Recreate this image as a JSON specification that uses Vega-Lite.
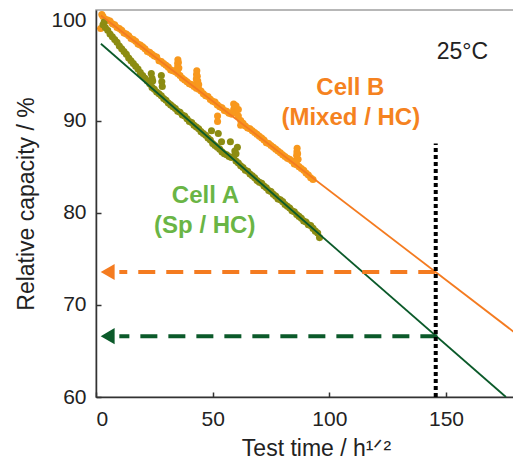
{
  "$schema": "https://vega.github.io/schema/vega-lite/v6.json",
  "autosize": "none",
  "padding": {"left": 96, "top": 10, "right": 0, "bottom": 67},
  "width": 420,
  "height": 387,
  "background": "white",
  "resolve": {"scale": {"color": "independent"}},
  "config": {
    "font": "Liberation Sans",
    "view": {"stroke": "#a0a0a0", "strokeWidth": 1.5},
    "axis": {
      "labelFont": "Liberation Sans", "titleFont": "Liberation Sans",
      "labelFontSize": 21, "titleFontSize": 23, "titleFontWeight": "normal",
      "labelColor": "#222", "titleColor": "#222",
      "domainColor": "#333", "domainWidth": 1.5, "tickColor": "#333", "tickWidth": 1.5,
      "tickSize": -5, "grid": false
    }
  },
  "datasets": {
    "cellB": [
      {"x":2,"y":100.0},{"x":2.5,"y":101.5},{"x":3,"y":101.3},{"x":4,"y":101.0},{"x":5,"y":100.9},{"x":6,"y":100.8},{"x":7,"y":100.5},{"x":8,"y":100.4},{"x":9,"y":100.1},{"x":10,"y":100.0},{"x":11,"y":99.8},{"x":12,"y":99.5},{"x":13,"y":99.4},{"x":14,"y":99.2},{"x":15,"y":98.9},{"x":16,"y":98.8},{"x":17,"y":98.6},{"x":18,"y":98.3},{"x":19,"y":98.2},{"x":20,"y":98.0},{"x":21,"y":97.8},{"x":22,"y":97.5},{"x":23,"y":97.4},{"x":24,"y":97.2},{"x":25,"y":97.0},{"x":26,"y":96.9},{"x":27,"y":96.5},{"x":28,"y":96.4},{"x":29,"y":96.2},{"x":30,"y":96.0},{"x":31,"y":95.8},{"x":32,"y":95.5},{"x":33,"y":95.4},{"x":34,"y":95.3},{"x":35,"y":95.1},{"x":34.8,"y":95.4},{"x":35,"y":95.8},{"x":35,"y":96.2},{"x":35.1,"y":96.6},{"x":35.3,"y":96.3},{"x":35.5,"y":95.7},{"x":36,"y":94.9},{"x":37,"y":94.6},{"x":38,"y":94.4},{"x":39,"y":94.2},{"x":40,"y":94.0},{"x":41,"y":93.9},{"x":42,"y":93.7},{"x":43,"y":93.5},{"x":43,"y":94.0},{"x":43,"y":94.5},{"x":43.1,"y":95.0},{"x":43.2,"y":95.4},{"x":43.4,"y":94.8},{"x":43.6,"y":94.3},{"x":44,"y":93.9},{"x":44,"y":93.4},{"x":45,"y":93.2},{"x":46,"y":92.9},{"x":47,"y":92.7},{"x":48,"y":92.6},{"x":49,"y":92.3},{"x":50,"y":92.1},{"x":51,"y":92.0},{"x":52,"y":91.7},{"x":52.1,"y":90.5},{"x":52.1,"y":89.9},{"x":53,"y":91.5},{"x":54,"y":91.4},{"x":55,"y":91.1},{"x":56,"y":91.0},{"x":57,"y":90.8},{"x":58,"y":90.7},{"x":59,"y":91.2},{"x":59,"y":91.8},{"x":59.5,"y":91.5},{"x":60,"y":90.8},{"x":60,"y":91.6},{"x":61,"y":90.5},{"x":61,"y":91.2},{"x":62,"y":90.0},{"x":62,"y":89.5},{"x":63,"y":89.7},{"x":64,"y":89.4},{"x":65,"y":89.2},{"x":66,"y":89.1},{"x":67,"y":88.9},{"x":68,"y":88.7},{"x":69,"y":88.5},{"x":70,"y":88.3},{"x":71,"y":88.1},{"x":72,"y":87.9},{"x":73,"y":87.6},{"x":74,"y":87.5},{"x":75,"y":87.3},{"x":76,"y":87.1},{"x":77,"y":86.9},{"x":78,"y":86.7},{"x":79,"y":86.5},{"x":80,"y":86.3},{"x":81,"y":86.1},{"x":82,"y":85.9},{"x":83,"y":85.8},{"x":84,"y":85.6},{"x":85,"y":85.3},{"x":86,"y":85.2},{"x":86,"y":85.7},{"x":86,"y":86.2},{"x":86.1,"y":86.6},{"x":86.2,"y":87.0},{"x":86.4,"y":86.4},{"x":86.6,"y":85.8},{"x":87,"y":85.0},{"x":88,"y":84.8},{"x":89,"y":84.6},{"x":90,"y":84.3},{"x":91,"y":84.1},{"x":92,"y":83.8},{"x":93,"y":83.6}
    ],
    "cellA": [
      {"x":3,"y":100.4},{"x":3.5,"y":100.7},{"x":4,"y":100.1},{"x":5,"y":99.8},{"x":6,"y":99.4},{"x":7,"y":99.1},{"x":8,"y":98.8},{"x":9,"y":98.5},{"x":10,"y":98.1},{"x":11,"y":97.8},{"x":12,"y":97.5},{"x":13,"y":97.2},{"x":14,"y":96.8},{"x":15,"y":96.5},{"x":16,"y":96.2},{"x":17,"y":95.9},{"x":18,"y":95.6},{"x":19,"y":95.2},{"x":20,"y":94.9},{"x":21,"y":94.6},{"x":22,"y":94.3},{"x":23,"y":94.0},{"x":23.7,"y":95.1},{"x":24,"y":94.6},{"x":24.3,"y":94.3},{"x":24,"y":93.6},{"x":25,"y":93.4},{"x":26,"y":93.1},{"x":27,"y":92.9},{"x":28,"y":92.7},{"x":28,"y":94.9},{"x":28.2,"y":94.2},{"x":28.4,"y":93.7},{"x":29,"y":92.4},{"x":30,"y":92.2},{"x":31,"y":91.9},{"x":32,"y":91.7},{"x":33,"y":91.5},{"x":34,"y":91.3},{"x":35,"y":91.0},{"x":36,"y":90.9},{"x":37,"y":90.6},{"x":38,"y":90.5},{"x":39,"y":90.2},{"x":40,"y":89.9},{"x":41,"y":89.8},{"x":42,"y":89.5},{"x":43,"y":89.3},{"x":44,"y":89.1},{"x":45,"y":88.8},{"x":46,"y":88.6},{"x":47,"y":88.4},{"x":48,"y":88.1},{"x":49,"y":87.9},{"x":49.5,"y":88.9},{"x":50,"y":87.5},{"x":51,"y":87.3},{"x":52,"y":87.1},{"x":52.4,"y":88.6},{"x":53,"y":86.9},{"x":53.8,"y":87.7},{"x":54,"y":86.6},{"x":55,"y":86.4},{"x":56,"y":86.3},{"x":57,"y":86.1},{"x":57.6,"y":87.7},{"x":58,"y":86.0},{"x":59,"y":86.1},{"x":59.5,"y":86.7},{"x":60,"y":86.4},{"x":60,"y":85.6},{"x":60.6,"y":87.1},{"x":61,"y":85.4},{"x":62,"y":85.1},{"x":63,"y":84.9},{"x":64,"y":84.6},{"x":65,"y":84.5},{"x":66,"y":84.2},{"x":67,"y":84.0},{"x":68,"y":83.8},{"x":69,"y":83.5},{"x":70,"y":83.3},{"x":71,"y":83.2},{"x":72,"y":82.9},{"x":73,"y":82.7},{"x":74,"y":82.4},{"x":75,"y":82.3},{"x":76,"y":82.0},{"x":77,"y":81.8},{"x":78,"y":81.5},{"x":79,"y":81.4},{"x":80,"y":81.2},{"x":81,"y":80.9},{"x":82,"y":80.7},{"x":83,"y":80.5},{"x":84,"y":80.2},{"x":85,"y":80.1},{"x":86,"y":79.8},{"x":87,"y":79.6},{"x":88,"y":79.4},{"x":89,"y":79.1},{"x":90,"y":79.0},{"x":91,"y":78.7},{"x":92,"y":78.6},{"x":93,"y":78.3},{"x":94,"y":78.0},{"x":95,"y":77.8},{"x":95.8,"y":77.3}
    ],
    "fits": [
      {"series":"B","x":2.1,"y":101.4,"x2":180,"y2":66.88},
      {"series":"A","x":2.1,"y":98.34,"x2":175.7,"y2":60}
    ],
    "arrows": [
      {"series":"B","x":145.4,"x2":10,"xa":5,"y":73.57},
      {"series":"A","x":146.3,"x2":10,"xa":5,"y":66.6}
    ],
    "labels": [
      {"text":"Cell B","x":109,"y":93.5,"c":"B"},
      {"text":"(Mixed / HC)","x":109.2,"y":90.25,"c":"B"},
      {"text":"Cell A","x":46.9,"y":81.8,"c":"A"},
      {"text":"(Sp / HC)","x":46.6,"y":78.6,"c":"A"}
    ],
    "temp": [{"text":"25°C","x":157,"y":97.4}],
    "vline": [{"x":145.6,"y":60,"y2":87.5}]
  },
  "layer": [
    {
      "data": {"name": "cellB"},
      "mark": {"type": "point", "filled": true, "size": 50, "opacity": 1, "color": "#F8981D"},
      "encoding": {
        "x": {"field": "x", "type": "quantitative", "scale": {"domain": [0, 180], "nice": false},
              "axis": {"values": [0, 50, 100, 150], "title": "Test time / h¹ᐟ²", "labelPadding": 16, "titlePadding": 8, "titleX": 220}},
        "y": {"field": "y", "type": "quantitative", "scale": {"domain": [60, 102], "nice": false, "zero": false},
              "axis": {"values": [60, 70, 80, 90, 100], "title": "Relative capacity / %", "labelPadding": 15, "titlePadding": 12,
                       "labelOffset": {"expr": "datum.value == 100 ? -8 : 0"}}}
      }
    },
    {
      "data": {"name": "cellA"},
      "mark": {"type": "point", "filled": true, "size": 50, "opacity": 1, "color": "#8C8C12"},
      "encoding": {
        "x": {"field": "x", "type": "quantitative"},
        "y": {"field": "y", "type": "quantitative"}
      }
    },
    {
      "data": {"name": "fits"},
      "mark": {"type": "rule", "strokeWidth": 1.8},
      "encoding": {
        "x": {"field": "x", "type": "quantitative"},
        "y": {"field": "y", "type": "quantitative"},
        "x2": {"field": "x2"},
        "y2": {"field": "y2"},
        "color": {"field": "series", "type": "nominal", "scale": {"domain": ["A", "B"], "range": ["#0B5A2A", "#F47B20"]}, "legend": null}
      }
    },
    {
      "data": {"name": "arrows"},
      "mark": {"type": "rule", "strokeWidth": 4, "strokeDash": [17, 11]},
      "encoding": {
        "x": {"field": "x", "type": "quantitative"},
        "x2": {"field": "x2"},
        "y": {"field": "y", "type": "quantitative"},
        "color": {"field": "series", "type": "nominal", "scale": {"domain": ["A", "B"], "range": ["#0B5A2A", "#F47B20"]}, "legend": null}
      }
    },
    {
      "data": {"name": "arrows"},
      "mark": {"type": "point", "shape": "triangle-left", "filled": true, "size": 260, "opacity": 1},
      "encoding": {
        "x": {"field": "xa", "type": "quantitative"},
        "y": {"field": "y", "type": "quantitative"},
        "color": {"field": "series", "type": "nominal", "scale": {"domain": ["A", "B"], "range": ["#0B5A2A", "#F47B20"]}, "legend": null}
      }
    },
    {
      "data": {"name": "vline"},
      "mark": {"type": "rule", "strokeWidth": 4, "strokeDash": [4, 3], "color": "#000"},
      "encoding": {
        "x": {"field": "x", "type": "quantitative"},
        "y": {"field": "y", "type": "quantitative"},
        "y2": {"field": "y2"}
      }
    },
    {
      "data": {"name": "labels"},
      "mark": {"type": "text", "fontSize": 24, "fontWeight": "bold", "font": "Liberation Sans"},
      "encoding": {
        "x": {"field": "x", "type": "quantitative"},
        "y": {"field": "y", "type": "quantitative"},
        "text": {"field": "text"},
        "color": {"field": "c", "type": "nominal", "scale": {"domain": ["A", "B"], "range": ["#6AB545", "#F58220"]}, "legend": null}
      }
    },
    {
      "data": {"name": "temp"},
      "mark": {"type": "text", "fontSize": 23, "font": "Liberation Sans", "color": "#222"},
      "encoding": {
        "x": {"field": "x", "type": "quantitative"},
        "y": {"field": "y", "type": "quantitative"},
        "text": {"field": "text"}
      }
    }
  ]
}
